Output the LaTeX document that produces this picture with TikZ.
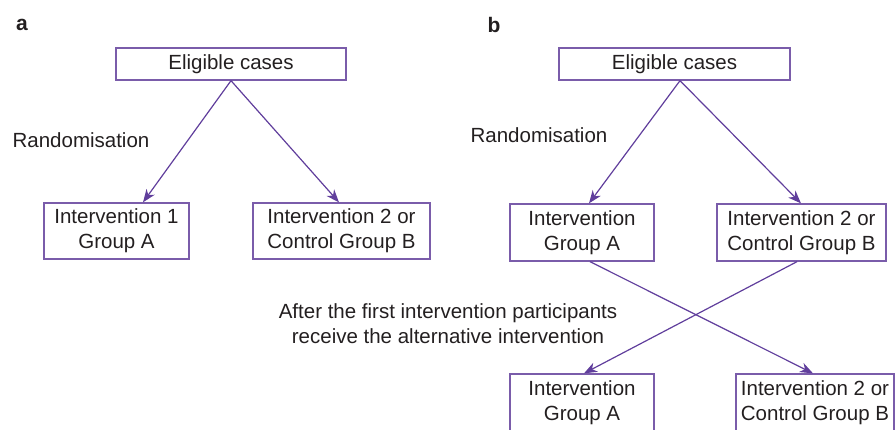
\documentclass[tikz,border=0pt]{standalone}
\usepackage{fontspec}
\setmainfont{Liberation Sans}
\usetikzlibrary{arrows.meta}
\definecolor{boxc}{RGB}{122,92,170}
\definecolor{arrc}{RGB}{96,62,156}
\definecolor{txt}{RGB}{35,31,32}
\tikzset{
  box/.style={draw=boxc, line width=1.3pt, inner sep=0pt, align=center, text=txt,
              font=\fontsize{20.5}{25}\selectfont, minimum height=57pt},
  ebox/.style={box, minimum height=32pt},
  lbl/.style={align=center, text=txt, font=\fontsize{20.5}{25}\selectfont, inner sep=0pt},
  plabel/.style={text=txt, font=\fontsize{21}{25}\selectfont\bfseries, inner sep=0pt},
  arr/.style={draw=arrc, line width=1.2pt, -{Stealth[length=13pt,width=10pt,inset=4pt]}}
}
\begin{document}
\begin{tikzpicture}[x=1pt,y=-1pt]
\useasboundingbox (0,0) rectangle (895,429);
% panel a
\node[plabel] (la) at (22,25) {a};
\node[ebox, minimum width=230pt] (E1) at (231,64) {Eligible cases};
\node[lbl] (R1) at (81,140) {Randomisation};
\node[box, minimum width=145pt, minimum height=56pt] (A1) at (116.5,231) {Intervention 1\\Group A};
\node[box, minimum width=177pt, minimum height=56pt] (B1) at (341.5,231) {Intervention 2 or\\Control Group B};
\draw[arr] (E1.south) -- ([xshift=26.5pt]A1.north);
\draw[arr] (E1.south) -- ([xshift=-2.5pt]B1.north);
% panel b
\node[plabel] (lb) at (494,25) {b};
\node[ebox, minimum width=231pt] (E2) at (674.5,64) {Eligible cases};
\node[lbl] (R2) at (539,135) {Randomisation};
\node[box, minimum width=144pt] (A2) at (582,232.5) {Intervention\\Group A};
\node[box, minimum width=169pt] (B2) at (801.5,232.5) {Intervention 2 or\\Control Group B};
\node[box, minimum width=144pt] (A3) at (582,402.5) {Intervention\\Group A};
\node[box, minimum width=158pt] (B3) at (815,402.5) {Intervention 2 or\\Control Group B};
\draw[arr] ([xshift=5.5pt]E2.south) -- ([xshift=7pt]A2.north);
\draw[arr] ([xshift=5.5pt]E2.south) -- ([xshift=-0.5pt]B2.north);
\draw[arr] ([xshift=8pt]A2.south) -- ([xshift=-2pt]B3.north);
\draw[arr] ([xshift=-4.5pt]B2.south) -- ([xshift=2pt]A3.north);
\node[lbl] (T) at (448,324) {After the first intervention participants\\receive the alternative intervention};
\end{tikzpicture}
\end{document}
